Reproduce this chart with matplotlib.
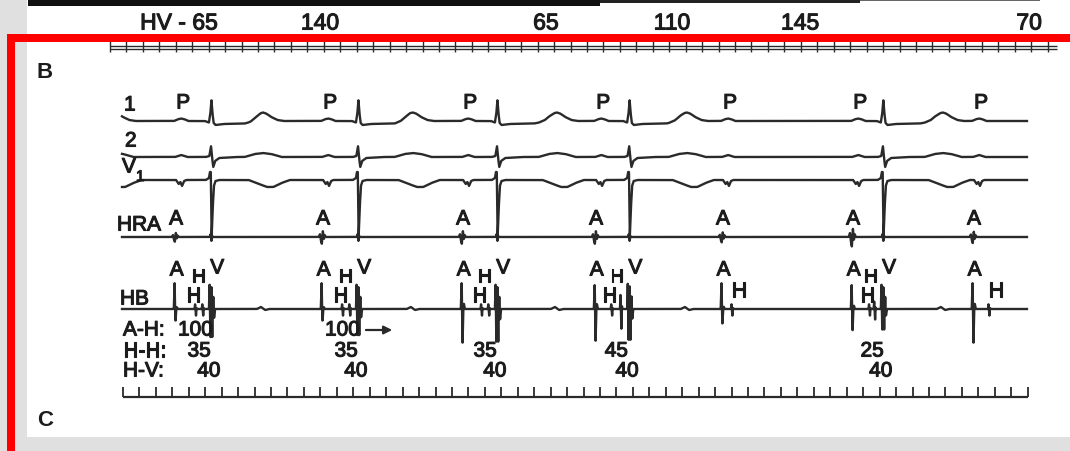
import numpy as np
import matplotlib
matplotlib.use("Agg")
import matplotlib.pyplot as plt
import matplotlib.patheffects as pe
from matplotlib.patches import Rectangle

plt.rcParams['font.family'] = ['Liberation Sans', 'DejaVu Sans']

# ---------------- data (times in ms along the recording) ----------------
atrial_times = [253, 968, 1649, 2296, 2913, 3546, 4134]      # A / P of every beat
ventricle_times = [428, 1143, 1819, 2462, 3696]              # conducted V / QRS
hh_ms = [35, 35, 35, 45, 25]                                 # split His H-H
hv_ms = [40, 40, 40, 40, 40]                                 # H-V
ah_text = ["100", "100", "", "", ""]                         # A-H labels
blocked_h_times = [2962, 4212]                               # H of blocked beats
t_wave_times = [-40, 681, 1410, 2111, 2743, 3988]
top_hv_labels = ["HV - 65", "140", "65", "110", "145", "70"]
top_hv_times = [272, 958, 2057, 2670, 3293, 4407]

hb_a_up = [27, 27, 27, 25, 27, 25, 27]
hb_a_down = [12, 12, 35, 33, 15, 22, 35]
hb_v_up = [26, 26, 26, 27, 26]
hb_v_down = [30, 28, 35, 33, 22]
hb_h2_gain = [1.0, 1.0, 1.0, 3.0, 1.6]
hra_gain = [0.7, 1.0, 1.0, 1.0, 0.8, 1.4, 0.9]

ruler_step_ms = 80
ruler_count = 56

# ---------------- waveform templates (offset ms, deflection px) ----------------
P_L1 = [(-35, 0), (-15, 1.8), (0, 2.5), (15, 1.8), (35, 0)]
QRS_L1 = [(-30, 0), (-10, -1.5), (-3, 8), (2, 21), (7, 8), (13, -2), (22, -4),
          (60, -3), (180, -2.5), (250, 0)]
T_L1 = [(-90, 0), (-60, 1.5), (-35, 5), (-12, 8), (0, 8.5), (15, 7.5), (40, 4),
        (70, 1), (100, 0)]
P_L2 = [(-30, 0), (0, 2), (30, 0)]
QRS_L2 = [(-25, 0), (-8, 1), (0, 11), (6, -2), (11, -10), (20, -4), (40, -1), (120, 0)]
T_L2 = [(-90, 0), (-40, 3), (0, 4), (40, 3), (90, 0)]
P_V1 = [(-25, 0), (-12, -4), (-4, -2), (4, -6), (14, -1), (25, 0)]
QRS_V1 = [(-25, 0), (-10, 2), (-5, 8), (-1, 8), (3, -57), (8, -30), (14, -6),
          (22, -1), (40, 0)]
T_V1 = [(-100, 0), (-50, -4), (-10, -7), (20, -7), (60, -3), (100, 0)]
A_HRA = [(-16, 0), (-10, 3), (-6, -3), (-1, -7), (4, 6), (9, -2), (13, 2), (18, 0)]
V_HRA = [(-6, 0), (-2, 3), (2, -4), (6, 1), (10, 0)]
A_HB_UP = [(-6, 0), (-2, 1.0), (1, 0)]
A_HB_DN = [(-1, 0), (2.5, -1.0), (6, 0), (9, 0.15), (14, 0)]
H_HB = [(-5, 0), (-2.5, 5), (0, -1), (2, -7), (4.5, 1), (7, 0)]
V_HB_UP = [(-10, 0), (-7, 1.0), (-5, 0), (0, 0), (2, 0.9), (4, 0), (9, 0), (11, 0.5),
           (13, 0)]
V_HB_DN = [(-5, 0), (-3, -1.0), (-1, 0), (4, 0), (6, -1.0), (8, 0), (13, 0),
           (15, -0.3), (20, 0)]
T_HB = [(-30, 0), (-10, 2), (10, -1), (30, 0)]

# ---------------- layout ----------------
W, H = 1070, 452
PX_PER_MS = 0.2056
X0_PX = 123


def X(px):
    return (px - X0_PX) / PX_PER_MS


def place(t, events, template, gains=None):
    dt = np.array([p[0] for p in template], float)
    dy = np.array([p[1] for p in template], float)
    out = np.zeros_like(t)
    for i, e in enumerate(events):
        g = 1.0 if gains is None else gains[i]
        out += g * np.interp(t - e, dt, dy, left=0.0, right=0.0)
    return out


t = np.arange(X(122), X(1027), 0.5)
p_times = [a + 30 for a in atrial_times]
h2_times = [v - hv for v, hv in zip(ventricle_times, hv_ms)]
h1_times = [h2 - hh for h2, hh in zip(h2_times, hh_ms)]

base = {"1": 122, "2": 158, "V1": 181, "HRA": 238, "HB": 310}

lead1 = place(t, p_times, P_L1) + place(t, ventricle_times, QRS_L1) + place(t, t_wave_times, T_L1)
lead2 = place(t, p_times, P_L2) + place(t, ventricle_times, QRS_L2) + place(t, t_wave_times, T_L2)
v1 = place(t, p_times, P_V1) + place(t, ventricle_times, QRS_V1) + place(t, [x + 30 for x in t_wave_times], T_V1)
hra = place(t, atrial_times, A_HRA, hra_gain) + place(t, ventricle_times, V_HRA)
hb = (place(t, atrial_times, A_HB_UP, hb_a_up) + place(t, atrial_times, A_HB_DN, hb_a_down)
      + place(t, h1_times, H_HB) + place(t, h2_times, H_HB, hb_h2_gain)
      + place(t, blocked_h_times, H_HB)
      + place(t, ventricle_times, V_HB_UP, hb_v_up) + place(t, ventricle_times, V_HB_DN, hb_v_down)
      + place(t, t_wave_times[1:], T_HB))

fig = plt.figure(figsize=(W / 100, H / 100), dpi=100, facecolor='white')
ax = fig.add_axes([0, 0, 1, 1])
ax.set_xlim(X(0), X(W))
ax.set_ylim(H, 0)
ax.axis('off')

INK = '#2a2a2a'
TXT = '#1c1c1c'
lw = 1.7
BOLDEN = [pe.withStroke(linewidth=0.8, foreground=TXT)]

for name, sig in [("1", lead1), ("2", lead2), ("V1", v1), ("HRA", hra), ("HB", hb)]:
    ax.plot(t, base[name] - sig, color=INK, lw=lw, solid_joinstyle='round', zorder=3)


def label(x, y, s, size=15, **kw):
    kw.setdefault('ha', 'center')
    kw.setdefault('va', 'center')
    ax.text(x, y, s, fontsize=size, color=TXT, path_effects=BOLDEN, zorder=4, **kw)


# ---- decorations in figure coordinates ----
def frect(x0, y0, x1, y1, color, z):
    ax.add_patch(Rectangle((x0 / W, 1 - y1 / H), (x1 - x0) / W, (y1 - y0) / H,
                           transform=fig.transFigure, facecolor=color, edgecolor='none',
                           clip_on=False, zorder=z))

frect(0, 0, 27, H, '#e0e0e0', 0)
frect(0, 438, W, H, '#e0e0e0', 0)
frect(28, 0, 600, 7, '#111111', 1)
frect(600, 0, 860, 4, '#222222', 1)
frect(860, 0, 1040, 2, '#666666', 1)
frect(7, 35, W, 43, '#ff0000', 10)
frect(7, 35, 15, H, '#ff0000', 10)

# ---- top ruler (from panel above) ----
top_ticks = [X(110) + ruler_step_ms * i for i in range(58)]
ax.hlines([46.5, 49.5], X(110), X(1057), color=INK, lw=1.0, zorder=2)
ax.vlines(top_ticks, 41, 53, color=INK, lw=1.0, zorder=2)
for lab, tm in zip(top_hv_labels, top_hv_times):
    label(tm, 24, lab, size=16.5)

# ---- bottom time ruler ----
ticks = [ruler_step_ms * i for i in range(ruler_count)]
ax.hlines(398, ticks[0], ticks[-1], color=INK, lw=1.6, zorder=2)
ax.vlines(ticks, 388, 398, color=INK, lw=1.3, zorder=2)

# ---- panel letters ----
ax.text(X(37), 72, "B", fontsize=16, fontweight='bold', color=TXT, va='center', ha='left')
ax.text(X(37), 421, "C", fontsize=16, fontweight='bold', color=TXT, va='center', ha='left')

# lead names
label(X(124), 106, "1", ha='left')
label(X(125), 142, "2", ha='left')
label(X(122), 168, "V", ha='left')
label(X(136), 178, "1", size=11, ha='left')
label(X(117), 226, "HRA", ha='left')
label(X(120), 300, "HB", ha='left')

for a in atrial_times:
    label(a + 40, 104, "P")
    label(a + 5, 220, "A")
    label(a + 8, 271, "A")

for v, h1, h2, ah, hh, hv in zip(ventricle_times, h1_times, h2_times, ah_text, hh_ms, hv_ms):
    label(v - 60, 278, "H", size=13.5)
    label(v + 30, 269, "V")
    label(h1 - 10, 297, "H")
    if ah:
        label(h1, 331, ah)
    label((h1 + h2) / 2, 352, str(hh))
    label((h2 + v) / 2 + 10, 372, str(hv))

for h in blocked_h_times:
    label(h + 35, 292, "H")

ax.annotate("", xy=(h1_times[1] + 255, 331), xytext=(h1_times[1] + 100, 331),
            arrowprops=dict(arrowstyle='-|>', color=INK, lw=1.6, mutation_scale=12))

label(X(123), 331, "A-H:", ha='left')
label(X(123), 352, "H-H:", ha='left')
label(X(123), 372, "H-V:", ha='left')

fig.savefig("out.png", dpi=100, facecolor='white')
